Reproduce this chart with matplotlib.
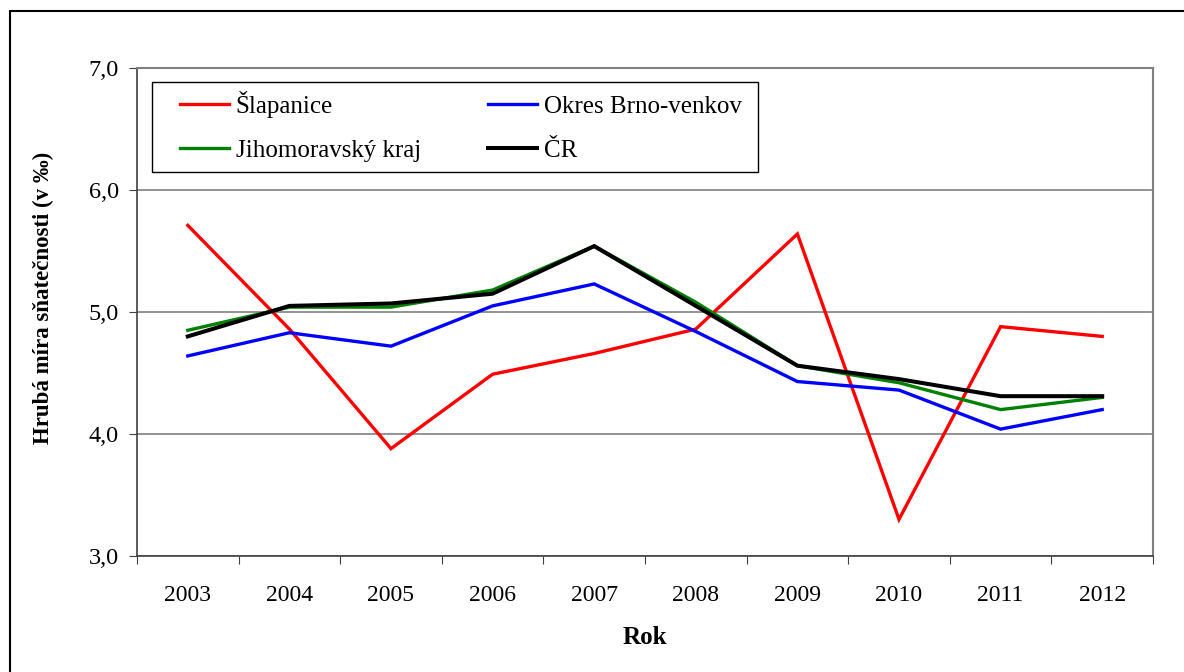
import numpy as np
import matplotlib
matplotlib.use("Agg")
import matplotlib.pyplot as plt

years = ["2003", "2004", "2005", "2006", "2007", "2008", "2009", "2010", "2011", "2012"]
slapanice = [5.71, 4.86, 3.88, 4.49, 4.66, 4.86, 5.64, 3.30, 4.88, 4.80]
brno_venkov = [4.64, 4.83, 4.72, 5.05, 5.23, 4.84, 4.43, 4.36, 4.04, 4.20]
jihomoravsky = [4.85, 5.04, 5.04, 5.18, 5.54, 5.08, 4.56, 4.42, 4.20, 4.30]
cr = [4.80, 5.05, 5.07, 5.15, 5.54, 5.05, 4.56, 4.45, 4.31, 4.31]

series = [
    ("Šlapanice", slapanice, "#ff0000", 2.4),
    ("Okres Brno-venkov", brno_venkov, "#0000ff", 2.4),
    ("Jihomoravský kraj", jihomoravsky, "#008000", 2.4),
    ("ČR", cr, "#000000", 2.9),
]

plt.rcParams["font.family"] = ["Liberation Serif", "DejaVu Serif"]

W, H = 1184, 672
fig = plt.figure(figsize=(W / 100, H / 100), dpi=100)
ax = fig.add_axes([137 / W, 1 - 556 / H, (1153 - 137) / W, (556 - 68) / H])

x = np.arange(len(years))
lines = {}
for name, vals, col, lw in series:
    lines[name], = ax.plot(x, vals, color=col, lw=lw, label=name, solid_joinstyle="miter")

ax.set_xlim(-0.5, len(years) - 0.5)
ax.set_ylim(3.0, 7.0)

# category labels between the boundary ticks
ax.set_xticks(np.arange(-0.5, len(years), 1.0))
ax.set_xticklabels([])
ax.set_xticks(x, minor=True)
ax.set_xticklabels(years, minor=True, fontsize=17)
ax.tick_params(axis="x", which="major", direction="out", length=6, width=0.8, color="#404040")
ax.tick_params(axis="x", which="minor", length=0, pad=21)

yt = [3.0, 4.0, 5.0, 6.0, 7.0]
ax.set_yticks(yt)
ax.set_yticklabels([f"{v:.1f}".replace(".", ",") for v in yt], fontsize=17.5)
ax.tick_params(axis="y", direction="out", length=6, width=0.8, color="#404040", pad=7)

ax.grid(axis="y", color="#808080", lw=1.2)
ax.set_axisbelow(True)
for s in ["top", "right"]:
    ax.spines[s].set_color("#808080")
    ax.spines[s].set_linewidth(1.5)
for s in ["left", "bottom"]:
    ax.spines[s].set_color("#404040")
    ax.spines[s].set_linewidth(1.2)

# legend filled row-wise like the original (matplotlib fills by column)
order = ["Šlapanice", "Jihomoravský kraj", "Okres Brno-venkov", "ČR"]
leg = ax.legend([lines[n] for n in order], order, loc="upper left",
                bbox_to_anchor=(43 / 1016, (556 - 91) / 488), ncol=2, fontsize=18,
                frameon=False, handlelength=1.95, handletextpad=0.28,
                labelspacing=0.85, columnspacing=2.7, borderpad=0, borderaxespad=0)
ax.add_patch(plt.Rectangle((15 / 1016, (556 - 172) / 488), 606 / 1016, 90 / 488,
                           transform=ax.transAxes, fill=False, ec="black", lw=1.0, zorder=5))

fig.text(43 / W, 1 - 298 / H, "Hrubá míra sňatečnosti (v ‰)", rotation=90,
         ha="center", va="center", fontsize=16.5, fontweight="bold")
fig.text(645 / W, 1 - 638 / H, "Rok", ha="center", va="center", fontsize=18, fontweight="bold")

# outer frame of the chart
fig.add_artist(plt.Rectangle((10 / W, -0.1), 2.0, 1.1 - 11 / H, transform=fig.transFigure,
                             fill=False, ec="black", lw=1.5))

fig.savefig("out.png", dpi=100)
